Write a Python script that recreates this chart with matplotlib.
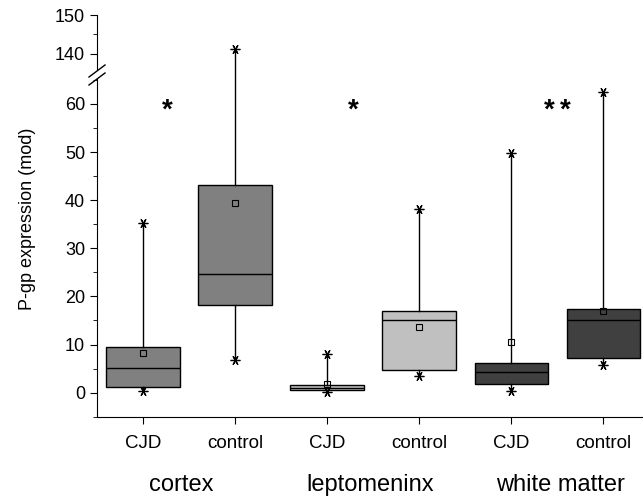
import numpy as np
import matplotlib as mpl
mpl.use('Agg')
import matplotlib.pyplot as plt
from matplotlib.transforms import blended_transform_factory

plt.rcParams['font.family'] = ['Liberation Sans', 'DejaVu Sans']

# data
groups = ['cortex', 'leptomeninx', 'white matter']
group_x = [1.42, 3.47, 5.53]
tick_labels = ['CJD', 'control', 'CJD', 'control', 'CJD', 'control']
q1 = [1.2, 18.2, 0.5, 4.8, 1.7, 7.3]
med = [5.1, 24.7, 0.9, 15.0, 4.2, 15.1]
q3 = [9.5, 43.2, 1.5, 17.0, 6.2, 17.4]
mean = [8.2, 39.4, 1.8, 13.7, 10.5, 17.0]
whislo = [0.3, 6.8, 0.2, 3.5, 0.3, 5.7]
whishi = [35.2, 141.2, 8.0, 38.1, 49.8, 62.4]
colors = ['#808080', '#808080', '#c0c0c0', '#c0c0c0', '#404040', '#404040']
# significance stars (white matter has two)
star_x = [1.26, 3.28, 5.41, 5.59]

pos = np.arange(1, 7)
stats = []
for i in range(6):
    stats.append(dict(med=med[i], q1=q1[i], q3=q3[i], mean=mean[i],
                      whislo=whislo[i], whishi=whishi[i], fliers=[]))

fig = plt.figure(figsize=(6.43, 5.0), dpi=100)
ax = fig.add_axes([97 / 643, 1 - 416.7 / 500, 1 - 97 / 643, (416.7 - 75) / 500])
axt = fig.add_axes([97 / 643, 1 - 75 / 500, 1 - 97 / 643, 60 / 500], sharex=ax)

asterisk = (6, 2, 90)
for a in (ax, axt):
    bp = a.bxp(stats, positions=pos, widths=0.8, patch_artist=True,
               showmeans=True, showcaps=False,
               boxprops=dict(linewidth=1.0, edgecolor='black'),
               medianprops=dict(color='black', linewidth=1.0),
               whiskerprops=dict(color='black', linewidth=1.0),
               meanprops=dict(marker='s', markersize=4, markerfacecolor='none',
                              markeredgecolor='black', markeredgewidth=0.8))
    for patch, c in zip(bp['boxes'], colors):
        patch.set_facecolor(c)
    a.plot(pos, whislo, linestyle='none', marker=asterisk, markersize=7,
           color='black', markeredgewidth=0.9)
    a.plot(pos, whishi, linestyle='none', marker=asterisk, markersize=7,
           color='black', markeredgewidth=0.9)
    for s in ['top', 'right']:
        a.spines[s].set_visible(False)
    a.tick_params(axis='y', which='major', direction='out', length=5, labelsize=13)
    a.tick_params(axis='y', which='minor', direction='out', length=3)

ax.set_xlim(0.5, 6.43)
ax.set_ylim(-5, 66)
ax.set_yticks([0, 10, 20, 30, 40, 50, 60])
ax.set_yticks(np.arange(-5, 66, 5), minor=True)
ax.set_xticks(pos)
ax.set_xticklabels(tick_labels, fontsize=13.5)
ax.tick_params(axis='x', direction='out', length=5, pad=8)

axt.set_ylim(134.6, 150)
axt.set_yticks([140, 150])
axt.set_yticks([145], minor=True)
axt.spines['bottom'].set_visible(False)
axt.tick_params(axis='x', which='both', bottom=False, labelbottom=False)

for sx in star_x:
    ax.text(sx, 58.5, '*', fontsize=20, fontweight='bold', ha='center', va='center')

trans = blended_transform_factory(ax.transData, fig.transFigure)
for g, gx in zip(groups, group_x):
    ax.text(gx, 1 - 485 / 500, g, fontsize=17, ha='center', va='center',
            transform=trans)

fig.text(28 / 643, 1 - 219 / 500, 'P-gp expression (mod)', fontsize=13,
         rotation=90, ha='center', va='center')

# break marks on the y axis
x0 = 97 / 643
for dy in [-4, 4]:
    yc = 1 - (75 + dy) / 500
    fig.add_artist(plt.Line2D([x0 - 8 / 643, x0 + 8 / 643],
                              [yc - 6 / 500, yc + 6 / 500],
                              color='black', linewidth=1.0))
fig.add_artist(plt.Rectangle((x0 - 2 / 643, 1 - 79 / 500), 4 / 643, 8 / 500,
                             facecolor='white', edgecolor='none', zorder=0.5))

fig.savefig('out.png', dpi=100)
